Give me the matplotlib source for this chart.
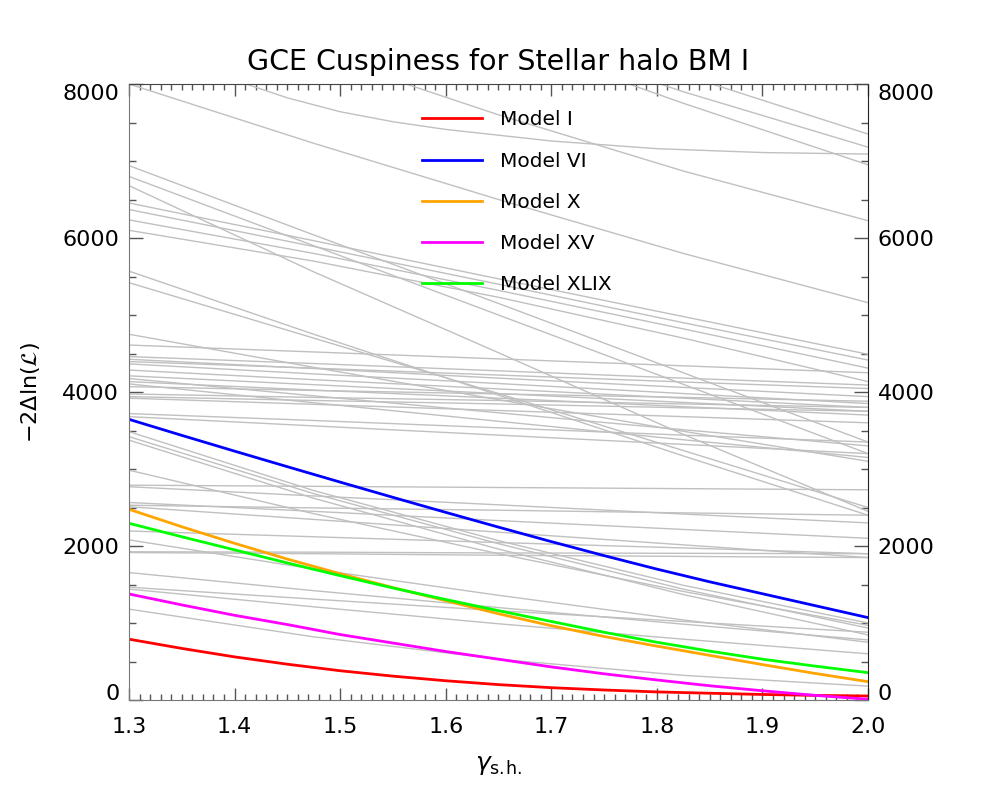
import matplotlib.pyplot as plt
from matplotlib.ticker import MultipleLocator

plt.rcParams['font.family'] = 'DejaVu Sans'
plt.rcParams['mathtext.fontset'] = 'dejavusans'

# x grid for the grey background models
gray_x = [1.3, 1.475, 1.65, 1.825, 2.0]
gray_curves = [
    [8000, 7230, 6500, 5800, 5160],
    [9300, 8400, 7600, 6870, 6225],
    [11000, 10000, 8950, 8120, 7350],
    [10500, 9600, 8700, 7900, 7180],
    [10400, 9500, 8600, 7750, 6950],
    [6940, 6040, 5150, 4250, 3350],
    [6800, 5900, 5000, 4100, 3200],
    [6680, 5560, 4510, 3450, 2450],
    [6455, 5965, 5470, 4980, 4490],
    [6370, 5890, 5400, 4900, 4415],
    [6235, 5800, 5320, 4820, 4310],
    [6100, 5700, 5230, 4700, 4135],
    [5570, 4750, 3960, 3170, 2400],
    [5420, 4700, 3980, 3240, 2500],
    [4750, 4320, 3900, 3490, 3100],
    [4610, 4520, 4430, 4340, 4250],
    [4460, 4370, 4275, 4180, 4090],
    [4425, 4305, 4180, 4060, 3940],
    [4395, 4310, 4220, 4130, 4045],
    [4365, 4235, 4110, 3980, 3850],
    [4285, 4160, 4040, 3920, 3800],
    [4210, 4095, 3980, 3865, 3750],
    [4175, 3950, 3730, 3510, 3300],
    [4135, 4025, 3920, 3810, 3700],
    [4105, 3860, 3620, 3380, 3150],
    [4070, 4020, 3975, 3930, 3880],
    [3975, 3930, 3890, 3845, 3800],
    [3940, 3890, 3845, 3795, 3750],
    [3920, 3840, 3760, 3680, 3600],
    [3720, 3630, 3535, 3440, 3350],
    [3680, 3560, 3440, 3320, 3200],
    [3485, 2720, 2070, 1490, 1000],
    [3420, 2680, 2030, 1440, 935],
    [3375, 2620, 1960, 1370, 845],
    [2985, 2420, 1900, 1410, 970],
    [2790, 2775, 2760, 2745, 2730],
    [2770, 2650, 2535, 2415, 2300],
    [2565, 2450, 2330, 2215, 2100],
    [2530, 2495, 2465, 2430, 2400],
    [2510, 2345, 2180, 2015, 1850],
    [2195, 2120, 2045, 1975, 1900],
    [2080, 1700, 1360, 1040, 750],
    [1925, 1920, 1910, 1905, 1900],
    [1915, 1900, 1880, 1865, 1850],
    [1655, 1420, 1200, 985, 780],
    [1465, 1310, 1160, 1020, 880],
    [1440, 1210, 990, 790, 600],
    [1180, 820, 530, 320, 180],
]
# the curved grey line that flattens near the top
flat_x = [1.4, 1.45, 1.5, 1.55, 1.6, 1.7, 1.8, 1.9, 2.0]
flat_y = [8050, 7820, 7640, 7510, 7410, 7260, 7160, 7110, 7090]

# highlighted models
model_x = [1.3, 1.35, 1.4, 1.45, 1.5, 1.55, 1.6, 1.65, 1.7, 1.75, 1.8, 1.85, 1.9, 1.95, 2.0]
model_I = [790, 670, 560, 465, 380, 310, 250, 200, 160, 130, 105, 88, 72, 60, 52]
model_VI = [3645, 3437, 3232, 3030, 2830, 2632, 2437, 2245, 2057, 1875, 1700, 1535, 1380, 1225, 1070]
model_X = [2477, 2250, 2035, 1830, 1640, 1460, 1290, 1120, 965, 825, 700, 580, 460, 345, 238]
model_XV = [1377, 1235, 1100, 980, 850, 740, 630, 530, 430, 340, 260, 185, 120, 60, 10]
model_XLIX = [2295, 2120, 1950, 1780, 1615, 1455, 1305, 1160, 1020, 880, 750, 635, 530, 440, 355]

labels = ['Model I', 'Model VI', 'Model X', 'Model XV', 'Model XLIX']
colors = ['#ff0000', '#0000ff', '#ffa500', '#ff00ff', '#00ff00']

xticks = [1.3, 1.4, 1.5, 1.6, 1.7, 1.8, 1.9, 2.0]
yticks = [0, 2000, 4000, 6000, 8000]

fig = plt.figure(figsize=(9.96, 7.97), dpi=100)
ax = fig.add_axes([0.1295, 0.1217, 0.742, 0.7729])

for c in gray_curves:
    ax.plot(gray_x, c, color='#c0c0c0', lw=1.0)
ax.plot(flat_x, flat_y, color='#c0c0c0', lw=1.0)

handles = []
for ys, col, lab in zip([model_I, model_VI, model_X, model_XV, model_XLIX], colors, labels):
    h, = ax.plot(model_x, ys, color=col, lw=2.0, label=lab)
    handles.append(h)

ax.set_xlim(1.3, 2.0)
ax.set_ylim(0, 8000)
ax.set_xticks(xticks)
ax.set_xticklabels([f'{v:.1f}' for v in xticks])
ax.set_yticks(yticks)
ax.set_yticklabels([str(v) for v in yticks])
ax.xaxis.set_minor_locator(MultipleLocator(0.01))
ax.yaxis.set_minor_locator(MultipleLocator(500))

ax.tick_params(which='both', direction='in', top=True, right=True,
               labelright=True, colors='#555555', labelcolor='black', labelsize=16)
ax.tick_params(axis='y', which='major', length=10, width=1, pad=7)
ax.tick_params(axis='y', which='minor', length=5, width=1)
ax.tick_params(axis='x', which='major', length=8.5, width=1, pad=12)
ax.tick_params(axis='x', which='minor', length=4.5, width=1)

for side in ['left', 'bottom']:
    ax.spines[side].set_color('#777777')
ax.spines['top'].set_color('#444444')
ax.spines['right'].set_color('#222222')

# end labels sit inside the axis range, like the original
yt = ax.yaxis.get_major_ticks()
yt[0].label1.set_va('baseline')
yt[0].label2.set_va('baseline')
yt[-1].label1.set_va('top')
yt[-1].label2.set_va('top')

ax.legend(handles, labels, loc='upper left', bbox_to_anchor=(0.3965, 0.957),
          frameon=False, fontsize=14.5, handlelength=3.0, handletextpad=0.85,
          labelspacing=1.1, borderpad=0, borderaxespad=0)

fig.text(498.5 / 996, 1 - 62 / 797, 'GCE Cuspiness for Stellar halo BM I',
         ha='center', va='center', fontsize=20.5)
fig.text(30 / 996, 1 - 392 / 797, r'$-2\Delta\mathrm{ln}(\mathcal{L})$',
         rotation=90, ha='center', va='center', fontsize=16)
fig.text(498.5 / 996, 1 - 765 / 797, r'$\gamma_{\mathrm{s.\!h.}}$',
         ha='center', va='center', fontsize=18)

fig.savefig('out.png', dpi=100)
